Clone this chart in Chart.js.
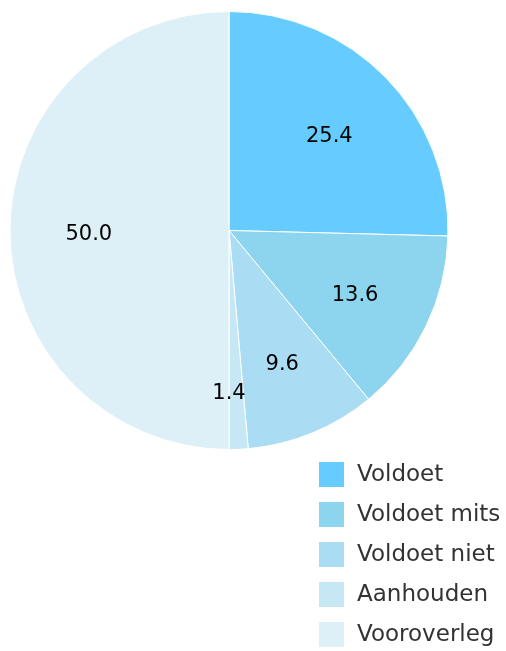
<!DOCTYPE html>
<html>
<head>
<meta charset="utf-8">
<script src="https://cdn.jsdelivr.net/npm/chart.js@4"></script>
<style>
  html, body { margin: 0; padding: 0; background: #fff; }
  #wrap { position: relative; width: 506px; height: 651px; }
</style>
</head>
<body>
<div id="wrap"><canvas id="myChart" width="506" height="651"></canvas></div>
<script>
// data
let categories = ['Voldoet', 'Voldoet mits', 'Voldoet niet', 'Aanhouden', 'Vooroverleg'];
let values = [25.4, 13.6, 9.6, 1.4, 50.0];
let colors = ['#66ccff', '#8dd5ee', '#aaddf3', '#c6e8f5', '#ddeff7'];

let fontFamily = '"DejaVu Sans", sans-serif';

// value labels inside the slices
let sliceLabels = {
    id: 'sliceLabels',
    afterDatasetsDraw(chart) {
        let ctx = chart.ctx;
        let meta = chart.getDatasetMeta(0);
        let total = values.reduce((a, b) => a + b, 0);
        ctx.save();
        ctx.font = '21px ' + fontFamily;
        ctx.fillStyle = '#000';
        ctx.textAlign = 'center';
        ctx.textBaseline = 'middle';
        meta.data.forEach((arc, i) => {
            let p = arc.getProps(['x', 'y', 'startAngle', 'endAngle', 'outerRadius'], true);
            let mid = (p.startAngle + p.endAngle) / 2;
            // small slices get their label further out, near the slice edge
            let small = values[i] / total < 0.03;
            let f = small ? 0.725 : 0.64;
            let a = small ? p.endAngle : mid;
            let d = p.outerRadius * f;
            ctx.fillText(values[i].toFixed(1), p.x + Math.cos(a) * d, p.y + Math.sin(a) * d + 4);
        });
        ctx.restore();
    }
};

// legend as a column, bottom right
let columnLegend = {
    id: 'columnLegend',
    afterDraw(chart) {
        let ctx = chart.ctx;
        ctx.save();
        ctx.font = '23px ' + fontFamily;
        ctx.textBaseline = 'middle';
        ctx.textAlign = 'left';
        categories.forEach((c, i) => {
            let y = 462 + i * 40;
            ctx.fillStyle = colors[i];
            ctx.fillRect(319, y, 25, 25);
            ctx.fillStyle = '#333';
            ctx.fillText(c, 357, y + 13);
        });
        ctx.restore();
    }
};

let ctx = document.getElementById('myChart').getContext('2d');
let chart = new Chart(ctx, {
    type: 'pie',
    data: {
        labels: categories,
        datasets: [{
            data: values,
            backgroundColor: colors,
            borderColor: '#fff',
            borderWidth: 1,
            hoverOffset: 0
        }]
    },
    options: {
        responsive: false,
        animation: false,
        layout: {
            padding: { left: 9, top: 11, right: 57, bottom: 201 }
        },
        plugins: {
            legend: { display: false },
            tooltip: { enabled: false }
        }
    },
    plugins: [sliceLabels, columnLegend]
});
</script>
</body>
</html>
